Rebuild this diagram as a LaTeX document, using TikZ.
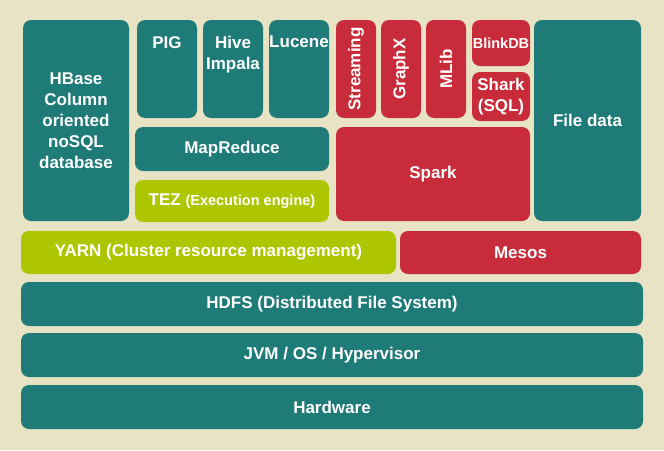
\documentclass[tikz,border=0pt]{standalone}
\usepackage{fontspec}
\setmainfont{Liberation Sans}
\definecolor{bg}{HTML}{E9E3C6}
\definecolor{teal}{HTML}{1E7B78}
\definecolor{redb}{HTML}{C82C3A}
\definecolor{lime}{HTML}{AEC600}
\newcommand\blk[7]{\node[blk,fill=#6,minimum width={#4-#2},minimum height={#5-#3}] (#1) at ({(#2+#4)/2},{(#3+#5)/2}) {#7};}
\begin{document}
\begin{tikzpicture}[x=1pt,y=-1pt,
  blk/.style={rounded corners=8pt,inner sep=0pt,outer sep=0pt,text=white,align=center,
    font=\bfseries\fontsize{17}{21}\selectfont},
  lbl/.style={inner sep=0pt,text=white,align=center,font=\bfseries\fontsize{17}{21}\selectfont}]
\fill[bg] (0,0) rectangle (664,450);
\useasboundingbox (0,0) rectangle (664,450);
\blk{hbase}{23}{20}{129}{221}{teal}{HBase\\Column\\oriented\\noSQL\\database}
\blk{pig}{137}{20}{197}{118}{teal}{}
\blk{hive}{203}{20}{263}{118}{teal}{}
\blk{lucene}{269}{20}{329}{118}{teal}{}
\node[lbl,anchor=north] (pigt) at ([yshift=-16pt]pig.north) {PIG};
\node[lbl,anchor=north] (hivet) at ([yshift=-16pt]hive.north) {Hive\\Impala};
\node[lbl,anchor=north] (lucenet) at ([yshift=-16pt]lucene.north) {Lucene};
\blk{mapreduce}{135}{127}{329}{171}{teal}{MapReduce}
\blk{tez}{135}{180}{329}{222}{lime}{TEZ {\fontsize{14.5}{17}\selectfont(Execution engine)}}
\blk{streaming}{336}{20}{376}{118}{redb}{}
\blk{graphx}{381}{20}{421}{118}{redb}{}
\blk{mlib}{426}{20}{466}{118}{redb}{}
\node[lbl,rotate=90] (streamingt) at (streaming.center) {Streaming};
\node[lbl,rotate=90] (graphxt) at (graphx.center) {GraphX};
\node[lbl,rotate=90] (mlibt) at (mlib.center) {MLib};
\blk{blinkdb}{472}{20}{530}{66}{redb}{\fontsize{14.5}{17}\selectfont BlinkDB}
\blk{shark}{472}{72}{530}{121}{redb}{Shark\\(SQL)}
\blk{spark}{336}{127}{530}{221}{redb}{Spark}
\blk{filedata}{534}{20}{641}{221}{teal}{File data}
\blk{yarn}{21}{231}{396}{274}{lime}{YARN (Cluster resource management)}
\blk{mesos}{400}{231}{641}{274}{redb}{Mesos}
\blk{hdfs}{21}{282}{643}{326}{teal}{HDFS (Distributed File System)}
\blk{jvm}{21}{333}{643}{377}{teal}{JVM / OS / Hypervisor}
\blk{hardware}{21}{385}{643}{429}{teal}{Hardware}
\end{tikzpicture}
\end{document}
